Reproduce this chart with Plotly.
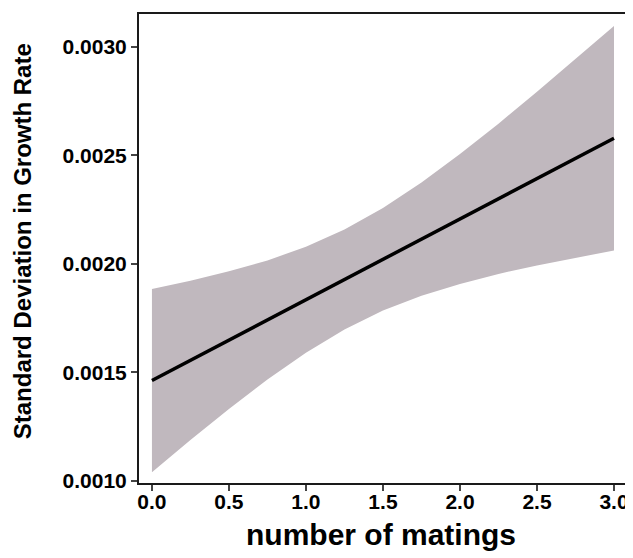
import plotly.graph_objects as go

# Data
x_band = [0.0, 0.25, 0.5, 0.75, 1.0, 1.25, 1.5, 1.75, 2.0, 2.25, 2.5, 2.75, 3.0]
upper = [0.001885, 0.001923, 0.001966, 0.002016, 0.002079, 0.002158, 0.002257,
         0.002375, 0.002506, 0.002646, 0.002793, 0.002943, 0.003096]
lower = [0.001041, 0.001189, 0.001332, 0.001468, 0.001591, 0.001698, 0.001785,
         0.001853, 0.001908, 0.001954, 0.001993, 0.002029, 0.002062]
x_line = [0.0, 3.0]
fit_line = [0.001463, 0.002579]

x_ticks = [0.0, 0.5, 1.0, 1.5, 2.0, 2.5, 3.0]
x_ticklabels = ["0.0", "0.5", "1.0", "1.5", "2.0", "2.5", "3.0"]
y_ticks = [0.0010, 0.0015, 0.0020, 0.0025, 0.0030]
y_ticklabels = ["0.0010", "0.0015", "0.0020", "0.0025", "0.0030"]

FONT = "Liberation Sans, Arial, sans-serif"
BAND = "rgb(192,184,190)"

fig = go.Figure()
fig.add_trace(go.Scatter(
    x=x_band + x_band[::-1],
    y=upper + lower[::-1],
    fill="toself", fillcolor=BAND,
    line=dict(width=0, color=BAND),
    mode="lines", hoverinfo="skip", showlegend=False,
))
fig.add_trace(go.Scatter(
    x=x_line, y=fit_line, mode="lines",
    line=dict(color="black", width=3.5),
    showlegend=False,
))

fig.update_layout(
    width=625, height=550,
    margin=dict(l=131, r=6, t=4, b=75),
    paper_bgcolor="white", plot_bgcolor="white",
    font=dict(family=FONT, color="black"),
    xaxis=dict(
        range=[-0.084, 3.078], tickvals=x_ticks, ticktext=x_ticklabels,
        showgrid=False, zeroline=False,
        showline=True, linecolor="#1a1a1a", linewidth=2, mirror=True,
        ticks="outside", ticklen=6, tickwidth=1.5, tickcolor="#444",
        ticklabelstandoff=-7,
        tickfont=dict(family=FONT, size=21, weight="bold", color="black"),
    ),
    yaxis=dict(
        range=[0.000991, 0.003151], tickvals=y_ticks, ticktext=y_ticklabels,
        showgrid=False, zeroline=False,
        showline=True, linecolor="#1a1a1a", linewidth=2, mirror=True,
        ticks="outside", ticklen=6, tickwidth=1.5, tickcolor="#444",
        tickfont=dict(family=FONT, size=21, weight="bold", color="black"),
    ),
    annotations=[
        dict(text="number of matings", xref="paper", yref="paper",
             x=0.496, y=-0.110, xanchor="center", yanchor="middle",
             showarrow=False,
             font=dict(family=FONT, size=30, weight="bold", color="black")),
        dict(text="Standard Deviation in Growth Rate", xref="paper", yref="paper",
             x=-0.2377, y=0.516, xanchor="center", yanchor="middle",
             textangle=-90, showarrow=False,
             font=dict(family=FONT, size=24, weight="bold", color="black")),
    ],
)

fig.write_html("out.html")
